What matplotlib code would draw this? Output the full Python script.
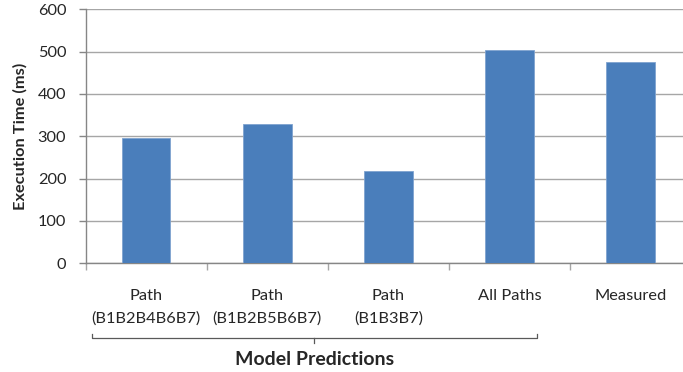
import matplotlib
matplotlib.use("Agg")
import matplotlib.pyplot as plt

# Chart data
categories = ["Path\n(B1B2B4B6B7)", "Path\n(B1B2B5B6B7)", "Path\n(B1B3B7)", "All Paths", "Measured"]
times_ms = [295, 328, 218, 503, 475]
y_ticks = [0, 100, 200, 300, 400, 500, 600]
y_label = "Execution Time (ms)"
group_label = "Model Predictions"

plt.rcParams["font.family"] = ["Lato", "DejaVu Sans"]

BAR_COLOR = "#4A7EBB"
GRID_COLOR = "#A6A6A6"
AXIS_COLOR = "#868686"
TEXT_COLOR = "#262626"

fig = plt.figure(figsize=(6.83, 3.72), dpi=100)
ax = fig.add_axes([0.1255, 0.2922, 1.0119 - 0.1255, 0.975 - 0.2922])

x = list(range(len(categories)))
ax.bar(x, times_ms, width=0.4, color=BAR_COLOR, edgecolor="#7FA3D0",
       linewidth=0.6, zorder=3)

ax.set_xlim(-0.5, len(categories) - 0.5)
ax.set_ylim(0, 600)
ax.set_yticks(y_ticks)
ax.yaxis.grid(True, color=GRID_COLOR, linewidth=1.0)
ax.set_axisbelow(True)

for side in ("top", "right"):
    ax.spines[side].set_visible(False)
for side in ("left", "bottom"):
    ax.spines[side].set_color(AXIS_COLOR)
    ax.spines[side].set_linewidth(1.0)

# Category labels centred under the bars, tick marks on category boundaries
ax.set_xticks(x)
ax.set_xticklabels(categories)
ax.set_xticks([i - 0.5 for i in range(len(categories) + 1)], minor=True)
ax.tick_params(axis="x", which="major", length=0, pad=18.6, labelsize=11.8,
               labelcolor=TEXT_COLOR)
ax.tick_params(axis="x", which="minor", length=5, width=1, color=GRID_COLOR)
ax.tick_params(axis="y", length=5, width=1, color=AXIS_COLOR, pad=9,
               labelsize=11.8, labelcolor=TEXT_COLOR)
for lbl in ax.get_xticklabels():
    lbl.set_linespacing(1.75)
    lbl.set_verticalalignment("top")

# Bracket grouping the model predictions
tr = ax.get_xaxis_transform()
bx0, bx1 = -0.45, 3.224
bmid = (bx0 + bx1) / 2
ax.plot([bx0, bx0, bx1, bx1], [-0.278, -0.293, -0.293, -0.278], transform=tr,
        color="#595959", linewidth=0.9, clip_on=False)
ax.plot([bmid, bmid], [-0.293, -0.313], transform=tr,
        color="#595959", linewidth=0.9, clip_on=False)
ax.text(bmid, -0.377, group_label, transform=tr, ha="center", va="center",
        fontsize=14, fontweight="bold", color=TEXT_COLOR)

fig.text(0.030, 0.6336, y_label, rotation=90, ha="center", va="center",
         fontsize=11.8, fontweight="bold", color=TEXT_COLOR)

fig.savefig("out.png", dpi=100)
